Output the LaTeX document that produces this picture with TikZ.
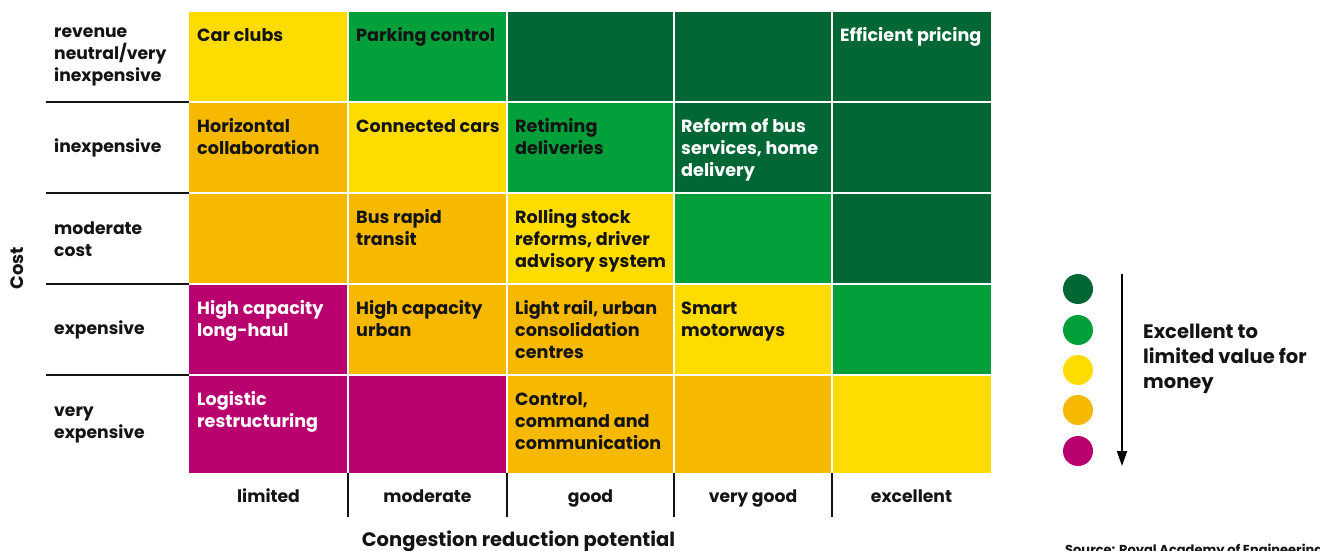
\documentclass[tikz,border=0pt]{standalone}
\usepackage{fontspec}
\setmainfont{Poppins}
\usetikzlibrary{arrows.meta}
\definecolor{dkg}{HTML}{036635}
\definecolor{grn}{HTML}{02A03A}
\definecolor{yel}{HTML}{FFDC00}
\definecolor{org}{HTML}{F6B900}
\definecolor{mag}{HTML}{B8006F}
\definecolor{ink}{HTML}{141414}
\newcommand{\cellfill}[5]{\fill[#5] ({#1+1},{#2+1}) rectangle ({#3-1},{#4-1});}
\newcommand{\fl}{\rule{0pt}{14pt}}
\newcommand{\cf}{\fontsize{17.6}{22}\selectfont\bfseries}
\begin{document}
\begin{tikzpicture}[x=1pt,y=-1pt,
  ctext/.style={anchor=north west, align=left, inner sep=0pt, text=ink, font=\cf},
  wtext/.style={ctext, text=white},
  rlabel/.style={anchor=west, align=left, inner sep=0pt, text=ink, font=\fontsize{17.2}{22}\selectfont\bfseries},
  clabel/.style={anchor=base, inner sep=0pt, text=ink, font=\fontsize{17.2}{22}\selectfont\bfseries},
  rule/.style={draw=ink, line width=1.2pt},
  dot/.style={circle, minimum size=30pt, inner sep=0pt}]
\useasboundingbox (0,0) rectangle (1320,551);
% row 1
\cellfill{188}{10.7}{348}{102}{yel}
\cellfill{348}{10.7}{507}{102}{grn}
\cellfill{507}{10.7}{674}{102}{dkg}
\cellfill{674}{10.7}{832}{102}{dkg}
\cellfill{832}{10.7}{992}{102}{dkg}
% row 2
\cellfill{188}{102}{348}{193}{org}
\cellfill{348}{102}{507}{193}{yel}
\cellfill{507}{102}{674}{193}{grn}
\cellfill{674}{102}{832}{193}{dkg}
\cellfill{832}{102}{992}{193}{dkg}
% row 3
\cellfill{188}{193}{348}{284}{org}
\cellfill{348}{193}{507}{284}{org}
\cellfill{507}{193}{674}{284}{yel}
\cellfill{674}{193}{832}{284}{grn}
\cellfill{832}{193}{992}{284}{dkg}
% row 4
\cellfill{188}{284}{348}{375}{mag}
\cellfill{348}{284}{507}{375}{org}
\cellfill{507}{284}{674}{375}{org}
\cellfill{674}{284}{832}{375}{yel}
\cellfill{832}{284}{992}{375}{grn}
% row 5
\cellfill{188}{375}{348}{473.7}{mag}
\cellfill{348}{375}{507}{473.7}{mag}
\cellfill{507}{375}{674}{473.7}{org}
\cellfill{674}{375}{832}{473.7}{org}
\cellfill{832}{375}{992}{473.7}{yel}
% cell texts
\node[ctext] (t11) at (197,27) {\fl Car clubs};
\node[ctext] (t12) at (356,27) {\fl Parking control};
\node[wtext] (t15) at (840,27) {\fl Efficient pricing};
\node[ctext] (t21) at (197,118) {\fl Horizontal\\collaboration};
\node[ctext] (t22) at (356,118) {\fl Connected cars};
\node[ctext] (t23) at (515,118) {\fl Retiming\\deliveries};
\node[wtext] (t24) at (681,118) {\fl Reform of bus\\services, home\\delivery};
\node[ctext] (t32) at (356,209) {\fl Bus rapid\\transit};
\node[ctext] (t33) at (515,209) {\fl Rolling stock\\reforms, driver\\advisory system};
\node[wtext] (t41) at (197,300) {\fl High capacity\\long-haul};
\node[ctext] (t42) at (356,300) {\fl High capacity\\urban};
\node[ctext] (t43) at (515,300) {\fl Light rail, urban\\consolidation\\centres};
\node[ctext] (t44) at (681,300) {\fl Smart\\motorways};
\node[wtext] (t51) at (197,391) {\fl Logistic\\restructuring};
\node[ctext] (t53) at (515,391) {\fl Control,\\command and\\communication};
% row labels
\node[rlabel] (r1) at (54,57) {revenue\\neutral/very\\inexpensive};
\node[rlabel] (r2) at (54,148) {inexpensive};
\node[rlabel] (r3) at (54,239) {moderate\\cost};
\node[rlabel] (r4) at (54,330) {expensive};
\node[rlabel] (r5) at (54,425) {very\\expensive};
\foreach \yy in {102,193,284,375} \draw[rule] (46,\yy) -- (189,\yy);
% column labels
\node[clabel] (c1) at (268.5,502) {limited};
\node[clabel] (c2) at (427.5,502) {moderate};
\node[clabel] (c3) at (590.5,502) {good};
\node[clabel] (c4) at (753,502) {very good};
\node[clabel] (c5) at (911.5,502) {excellent};
\foreach \xx in {348,507,674,832} \draw[rule] (\xx,473) -- (\xx,517);
% axis titles
\node[rotate=90, inner sep=0pt, text=ink, font=\fontsize{18}{20}\selectfont\bfseries] (cost) at (17,268) {Cost};
\node[anchor=base, inner sep=0pt, text=ink, font=\fontsize{19.5}{22}\selectfont\bfseries] (xt) at (518.5,546.5) {Congestion reduction potential};
\node[anchor=base west, inner sep=0pt, text=ink, font=\fontsize{13}{15}\selectfont\bfseries] (src) at (1065,554) {Source: Royal Academy of Engineering};
% legend
\node[dot, fill=dkg] (d1) at (1078,289) {};
\node[dot, fill=grn] (d2) at (1078,330) {};
\node[dot, fill=yel] (d3) at (1078,370) {};
\node[dot, fill=org] (d4) at (1078,410) {};
\node[dot, fill=mag] (d5) at (1078,451) {};
\coordinate (a1) at (1122,274);
\coordinate (a2) at (1122,466);
\draw[line width=1.8pt, -{Triangle[width=10pt,length=15pt]}] (a1) -- (a2);
\node[anchor=north west, align=left, inner sep=0pt, text=ink, font=\fontsize{19.5}{25}\selectfont\bfseries] (lt) at (1143,322) {\rule{0pt}{16pt}Excellent to\\limited value for\\money};
\end{tikzpicture}
\end{document}
